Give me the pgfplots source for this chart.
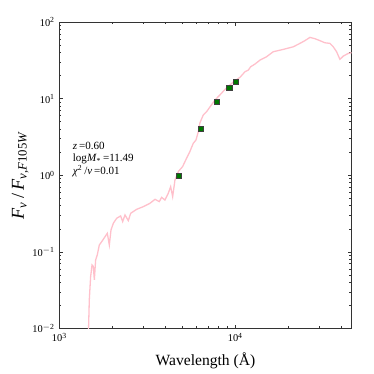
\documentclass[border=0pt]{standalone}
\usepackage{fontspec}
\setmainfont{Liberation Serif}
\usepackage{pgfplots}
\pgfplotsset{compat=1.18}

\definecolor{sedpink}{RGB}{255,192,203}
\definecolor{ptgreen}{RGB}{0,120,0}

\begin{document}
\begin{tikzpicture}
\begin{axis}[
    name=ax,
    scale only axis,
    width=225pt,
    height=236pt,
    xmode=log,
    ymode=log,
    xmin=1000, xmax=45800,
    ymin=0.01, ymax=100,
    xtick={1000,10000},
    xticklabels={10\textsuperscript{3},10\textsuperscript{4}},
    minor xtick={2000,3000,4000,5000,6000,7000,8000,9000,20000,30000,40000},
    ytick={0.01,0.1,1,10,100},
    yticklabels={10\textsuperscript{$-$2},10\textsuperscript{$-$1},10\textsuperscript{0},10\textsuperscript{1},10\textsuperscript{2}},
    minor ytick={0.02,0.03,0.04,0.05,0.06,0.07,0.08,0.09,0.2,0.3,0.4,0.5,0.6,0.7,0.8,0.9,2,3,4,5,6,7,8,9,20,30,40,50,60,70,80,90},
    tick align=inside,
    major tick length=3pt,
    minor tick length=1.6pt,
    tick style={black!80, line width=0.5pt},
    axis line style={black!80, line width=0.8pt},
    tick label style={font=\fontsize{8}{9}\selectfont},
    xlabel={Wavelength (Å)},
    xlabel style={font=\fontsize{12}{14}\selectfont, yshift=-1.5pt},
    ylabel={\textit{F}\textsubscript{\textit{ν}}\,/\,\textit{F}\textsubscript{\textit{ν},\textit{F}105\textit{W}}},
    ylabel style={font=\fontsize{14}{16}\selectfont, yshift=-4pt},
]
\addplot[only marks, mark=square*, mark size=2.1pt,
    mark options={fill=ptgreen, draw=black!75, line width=0.4pt}] coordinates {
    (4786,0.99) (6383,4.06) (7831,9.06) (9247,13.9) (10040,16.7)
};
\addplot[sedpink, line width=1pt] coordinates {
    (1462,0.008) (1480,0.0237) (1506,0.0476) (1534,0.0676) (1560,0.0646)
    (1581,0.0432) (1608,0.0787) (1643,0.0914) (1687,0.123) (1740,0.136)
    (1818,0.158) (1874,0.175) (1924,0.123) (1967,0.194) (2028,0.237)
    (2118,0.275) (2230,0.295) (2291,0.249) (2361,0.304) (2466,0.256)
    (2543,0.319) (2749,0.36) (2999,0.39) (3272,0.431) (3497,0.486)
    (3700,0.454) (3814,0.516) (3982,0.476) (4160,0.582) (4292,0.711)
    (4406,0.527) (4542,0.869) (4746,1.12) (5020,1.30) (5286,1.67)
    (5521,2.04) (5766,2.61) (5979,2.89) (6166,3.71) (6299,4.86)
    (6577,6.12) (6870,6.77) (7243,8.02) (7662,9.6) (8181,11.2)
    (8736,13.2) (9326,15.1) (9958,17.2) (10633,19.0) (11357,22.5)
    (11857,23.6) (12227,26.1) (12940,28.3) (13820,31.9) (15070,35.3)
    (16440,41.0) (18750,44.0) (21380,47.6) (23300,52.7) (24870,57.2)
    (26570,63.1) (28370,60.7) (30290,57.2) (32310,53.7) (34520,52.7)
    (36040,47.6) (37660,41.0) (39360,32.6) (41110,36.0) (43860,39.0)
    (45810,39.8)
};
\node[anchor=north west, align=left, inner sep=0pt,
    font=\fontsize{8.5}{9.6}\selectfont] at (axis cs:1190,2.75)
    {\textit{z}\,=0.60\\log\textit{M}\textsubscript{*}\,=11.49\\\textit{χ}\textsuperscript{2}\,/\textit{ν}\,=0.01};
\end{axis}
\path ([xshift=-45.7pt,yshift=-35pt]ax.south west) rectangle ([xshift=17.2pt,yshift=17pt]ax.north east);
\end{tikzpicture}
\end{document}
